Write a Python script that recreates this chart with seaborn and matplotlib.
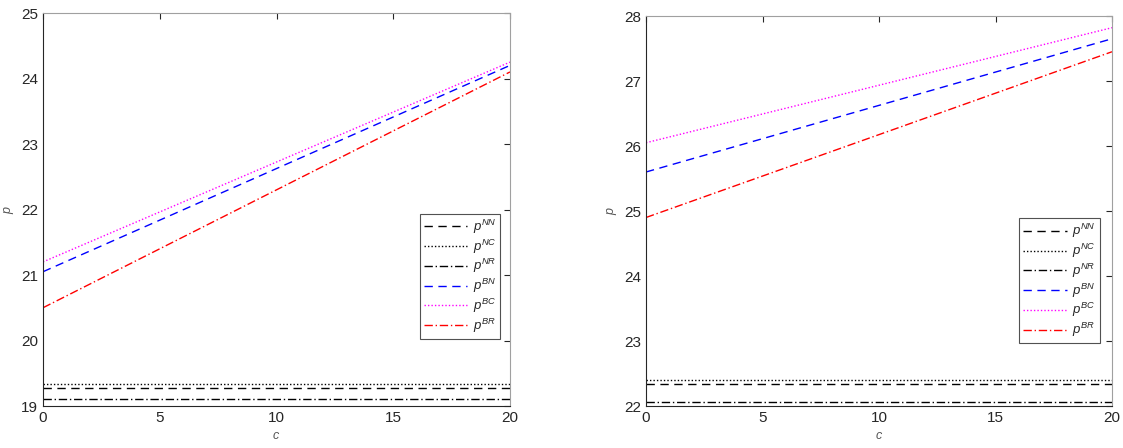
import numpy as np
import pandas as pd
import seaborn as sns
import matplotlib.pyplot as plt
from matplotlib.lines import Line2D

# 數據
c = [0, 20]
labels = ['$p^{NN}$', '$p^{NC}$', '$p^{NR}$', '$p^{BN}$', '$p^{BC}$', '$p^{BR}$']

left_NN = [19.27, 19.27]
left_NC = [19.34, 19.34]
left_NR = [19.11, 19.11]
left_BN = [21.05, 24.20]
left_BC = [21.20, 24.25]
left_BR = [20.50, 24.10]

right_NN = [22.34, 22.34]
right_NC = [22.40, 22.40]
right_NR = [22.06, 22.06]
right_BN = [25.60, 27.65]
right_BC = [26.05, 27.82]
right_BR = [24.90, 27.45]

colors = ['black', 'black', 'black', 'blue', 'magenta', 'red']
styles = [(0, (6, 4)), (0, (1, 1.5)), (0, (6, 2, 1, 2)),
          (0, (6, 4)), (0, (1, 1.5)), (0, (6, 2, 1, 2))]

sns.set_style('white')
plt.rcParams['font.family'] = ['Liberation Sans', 'DejaVu Sans']
plt.rcParams['mathtext.fontset'] = 'custom'
plt.rcParams['mathtext.it'] = 'Liberation Sans:italic'
plt.rcParams['mathtext.rm'] = 'Liberation Sans'

fig = plt.figure(figsize=(11.23, 4.48), dpi=100)
ax1 = fig.add_axes([43/1123, 42/448, 467/1123, 393/448])
ax2 = fig.add_axes([646/1123, 42/448, 466/1123, 390/448])


def draw(ax, series, ylim, anchor):
    for vals, lab, col, ls in zip(series, labels, colors, styles):
        df = pd.DataFrame({'c': c, 'p': vals})
        sns.lineplot(data=df, x='c', y='p', ax=ax, color=col, linestyle=ls, linewidth=1)
    ax.set_xlim(0, 20)
    ax.set_ylim(*ylim)
    ax.set_xticks([0, 5, 10, 15, 20])
    ax.set_yticks(np.arange(ylim[0], ylim[1] + 1))
    ax.tick_params(direction='in', length=4, labelsize=11, top=True, right=True,
                   colors='#262626', width=0.8)
    for s in ['left', 'bottom']:
        ax.spines[s].set_color('#262626')
    for s in ['top', 'right']:
        ax.spines[s].set_color('#a0a0a0')
    for s in ax.spines.values():
        s.set_linewidth(0.8)
    ax.set_xlabel('$c$', fontsize=9, color='#555555', labelpad=4)
    ax.set_ylabel('$p$', fontsize=9, color='#555555', labelpad=4)
    handles = [Line2D([], [], color=col, linestyle=ls, linewidth=1) for col, ls in zip(colors, styles)]
    leg = ax.legend(handles, labels, loc='lower right', bbox_to_anchor=anchor,
                    fontsize=9.5, frameon=True, fancybox=False, handlelength=3.3,
                    labelspacing=0.12, borderpad=0.3, handletextpad=0.4,
                    borderaxespad=0)
    leg.get_frame().set_edgecolor('#262626')
    leg.get_frame().set_linewidth(0.8)


draw(ax1, [left_NN, left_NC, left_NR, left_BN, left_BC, left_BR], (19, 25), (0.979, 0.171))
draw(ax2, [right_NN, right_NC, right_NR, right_BN, right_BC, right_BR], (22, 28), (0.974, 0.161))

plt.savefig('out.png', dpi=100)
